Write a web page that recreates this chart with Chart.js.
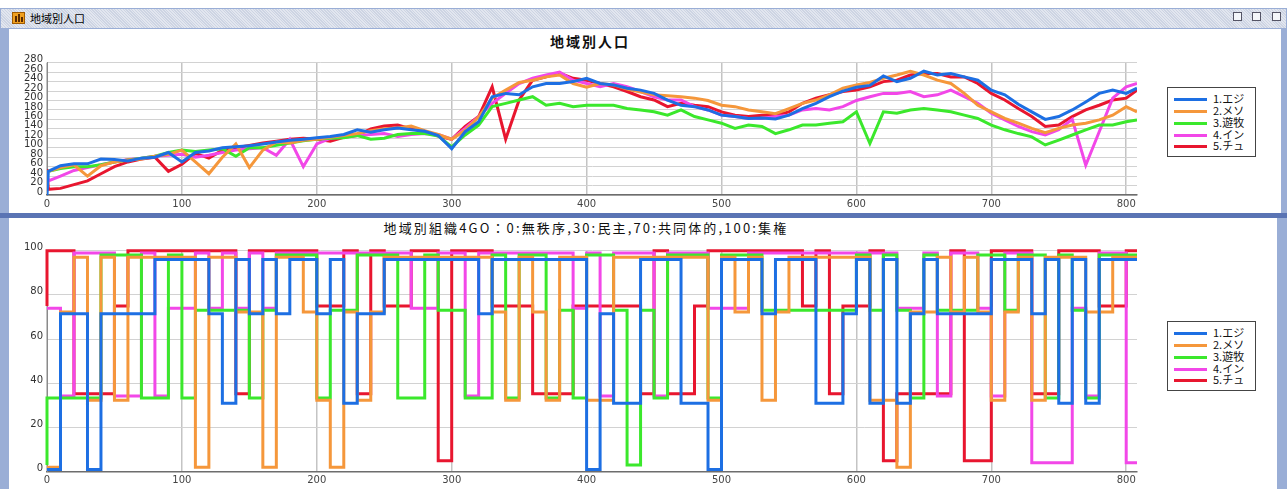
<!DOCTYPE html>
<html><head><meta charset="utf-8">
<script src="https://cdn.jsdelivr.net/npm/chart.js@4.4.0/dist/chart.umd.min.js"></script>
<style>
html,body{margin:0;padding:0;width:1287px;height:489px;overflow:hidden;background:#ffffff;}
body{position:relative;font-family:"Noto Sans CJK JP","DejaVu Sans",sans-serif;}
#frame{position:absolute;left:0;top:8px;width:1287px;height:481px;background:#9aaed6;}
#sep{position:absolute;left:0;top:213px;width:1287px;height:5px;background:#5a74b4;}
#tbar{position:absolute;left:1px;top:9px;width:1285px;height:19px;background:repeating-linear-gradient(45deg,#e2e6ef 0px,#e2e6ef 1px,#cdd4e3 1px,#cdd4e3 2px);}
#ticon{position:absolute;left:12px;top:12px;width:13px;height:12px;background:#f0a020;border:1px solid #a05a00;box-sizing:border-box;}
#ticon i{position:absolute;bottom:1px;width:2px;background:#5a2a00;}
#ttext{position:absolute;left:30px;top:10px;font-size:11px;line-height:17px;color:#000;}
.wbtn{position:absolute;top:12px;width:9px;height:9px;border:1px solid #556;background:#f4f6fa;box-sizing:border-box;}
.panel{position:absolute;background:#fff;}
#p1{left:9px;top:29px;width:1272px;height:184px;}
#p2{left:9px;top:218px;width:1268px;height:271px;}
canvas{position:absolute;left:0;}
#c1{top:29px;}
#c2{top:218px;}
.title{position:absolute;white-space:nowrap;color:#111;}
#t1{top:32px;font-size:14px;font-weight:bold;line-height:18px;}
#t2{top:219px;font-size:13px;line-height:18px;}
.legend{position:absolute;left:1167px;width:89px;height:70px;border:1px solid #444;background:#fff;box-sizing:border-box;}
.legend div{position:absolute;left:0;height:12px;width:88px;}
.legend span.l{position:absolute;left:6px;top:5px;width:33px;height:3px;}
.legend span.t{position:absolute;left:45px;top:-3px;font-size:11px;line-height:16px;color:#111;}
</style></head>
<body>
<div id="frame"></div>
<div id="sep"></div>
<div id="tbar"></div>
<div id="ticon"><i style="left:2px;height:6px"></i><i style="left:5px;height:8px"></i><i style="left:8px;height:5px"></i></div>
<div id="ttext">地域別人口</div>
<div class="wbtn" style="left:1233px"></div>
<div class="wbtn" style="left:1252px"></div>
<div class="wbtn" style="left:1272px"></div>
<div class="panel" id="p1"></div>
<div class="panel" id="p2"></div>
<div class="title" id="t1">地域別人口</div>
<div class="title" id="t2">地域別組織4GO：0:無秩序,30:民主,70:共同体的,100:集権</div>
<canvas id="c1" width="1160" height="185"></canvas>
<canvas id="c2" width="1160" height="271"></canvas>
<div class="legend" id="lg1" style="top:87px"></div>
<div class="legend" id="lg2" style="top:321px"></div>
<script>
// ---------- data ----------
const seriesNames = ["1.エジ", "2.メソ", "3.遊牧", "4.イン", "5.チュ"];
const seriesColors = ["#1d6fe3", "#f5973b", "#3be82c", "#f247e8", "#e8162f"];

// population chart (time steps)
const xPop = [0,1,10,20,30,40,50,60,70,80,90,100,110,120,130,140,150,160,170,180,190,200,210,220,230,240,250,260,270,280,290,300,310,320,330,340,350,360,370,380,390,400,410,420,430,440,450,460,470,480,490,500,510,520,530,540,550,560,570,580,590,600,610,620,630,640,650,660,670,680,690,700,710,720,730,740,750,760,770,780,790,800,808];
const popEji = [0,50,62,66,66,76,75,72,78,80,90,70,90,93,100,102,104,108,112,116,118,121,124,128,138,133,138,142,138,135,126,98,134,155,208,215,212,229,236,236,240,247,236,233,226,222,215,201,190,187,180,169,166,162,163,161,169,183,194,208,220,228,232,252,240,247,262,254,257,250,243,222,212,192,176,160,166,180,197,215,222,215,226];
const popMeso = [48,50,58,64,40,62,70,74,76,82,86,95,70,45,80,108,58,95,112,110,116,118,122,126,130,136,140,142,146,136,128,118,137,165,205,222,238,243,250,254,236,228,236,233,224,218,212,210,208,205,200,190,187,180,176,172,183,194,201,212,226,233,238,247,254,262,254,243,236,215,190,176,162,152,141,132,141,148,152,159,169,187,176];
const popYuboku = [48,50,56,60,60,64,70,74,78,82,90,95,92,95,98,82,100,100,105,110,115,118,120,121,126,118,120,128,130,130,125,102,127,148,187,194,201,208,190,194,187,190,190,190,183,180,176,169,180,166,159,152,141,148,145,130,138,148,148,152,155,176,109,176,173,180,183,180,176,169,162,148,138,130,123,106,116,127,138,148,148,155,159];
const popIn = [45,30,40,52,58,64,70,75,78,82,84,86,80,84,90,95,98,100,84,118,60,108,120,124,126,128,130,124,128,130,128,118,141,166,194,215,236,247,254,260,243,236,229,236,229,219,208,201,201,187,180,169,166,162,162,166,169,180,183,180,187,200,208,215,215,219,208,212,222,208,194,173,159,145,134,127,138,160,63,134,205,229,236];
const popChu = [55,12,14,22,30,45,60,70,76,80,50,65,88,78,95,100,105,110,114,118,120,118,114,122,126,140,146,148,140,135,125,118,145,166,229,118,201,243,250,258,247,243,236,229,219,208,201,187,194,190,187,176,169,166,169,169,176,194,205,212,219,222,229,240,243,254,257,257,250,250,236,215,201,183,166,145,148,166,180,190,201,205,222];
const popTicksY = [0,20,40,60,80,100,120,140,160,180,200,220,240,260,280];

// organisation chart (step changes every 10 steps)
const xOrg = [0,10,20,30,40,50,60,70,80,90,100,110,120,130,140,150,160,170,180,190,200,210,220,230,240,250,260,270,280,290,300,310,320,330,340,350,360,370,380,390,400,410,420,430,440,450,460,470,480,490,500,510,520,530,540,550,560,570,580,590,600,610,620,630,640,650,660,670,680,690,700,710,720,730,740,750,760,770,780,790,800];
const xOrgEnd = 808;
const orgStart = [1, 2, 3, 74, 75];
const orgEji = [1,71.5,71.5,1,71.5,71.5,71.5,71.5,96,96,96,96,71.5,31,96,71.5,96,71.5,96,96,71.5,96,31,71.5,71.5,96,96,96,96,96,96,96,71.5,96,96,96,96,96,96,96,1,71.5,31,31,96,96,96,31,31,1,96,96,96,71.5,96,96,96,31,31,71.5,96,31,96,31,71.5,96,71.5,71.5,71.5,71.5,96,96,96,71.5,96,31,96,31,96,96,96];
const orgMeso = [2,72.3,97,32.3,97,32.3,97,97,97,97,97,2,97,97,72.3,72.3,2,97,97,72.3,32.3,2,72.3,32.3,72.3,97,97,97,97,97,97,97,97,72.3,32.3,97,72.3,32.3,97,97,32.3,32.3,97,97,97,97,97,97,97,32.3,97,72.3,97,32.3,72.3,97,97,97,97,97,97,32.3,32.3,2,72.3,72.3,97,72.3,97,72.3,32.3,72.3,97,32.3,97,97,97,72.3,72.3,97,97];
const orgYuboku = [33.4,33.4,33.4,33.4,98,98,98,33.4,33.4,98,33.4,73.1,73.1,73.1,73.1,33.4,73.1,98,98,98,33.4,73.1,73.1,98,98,98,33.4,33.4,98,73.1,73.1,33.4,33.4,98,33.4,98,98,33.4,73.1,33.4,98,98,73.1,3,73.1,33.4,98,98,98,33.4,98,98,98,73.1,73.1,73.1,73.1,73.1,73.1,73.1,98,73.1,98,73.1,33.4,98,73.1,73.1,73.1,98,98,73.1,98,98,33.4,98,73.1,33.4,98,98,98];
const orgIn = [74,34.3,99,99,99,34.3,34.3,99,34.3,74,74,99,74,99,74,99,74,99,99,99,99,99,99,99,99,99,99,74,74,99,99,34.3,99,99,99,99,99,99,99,74,99,34.3,99,99,99,34.3,99,99,99,74,74,74,99,99,99,99,99,99,99,99,99,99,99,74,74,99,34.3,99,99,74,34.3,99,99,4,4,4,74,34.3,99,99,4];
const orgChu = [100,100,35.3,35.3,35.3,75,100,100,100,100,100,100,100,100,35.3,100,100,100,100,100,75,75,100,35.3,100,75,75,100,100,5,100,100,100,75,75,75,35.3,35.3,35.3,75,75,75,75,75,35.3,100,35.3,35.3,75,100,100,100,100,100,100,100,75,100,35.3,75,75,100,5,35.3,35.3,35.3,35.3,100,5,5,100,100,100,35.3,35.3,100,100,100,75,75,100];
const orgTicksY = [0,20,40,60,80,100];
const xTicks = [0,100,200,300,400,500,600,700,800];

// ---------- helpers ----------
const popSeries = [popEji, popMeso, popYuboku, popIn, popChu];
const orgSeries = [orgEji, orgMeso, orgYuboku, orgIn, orgChu];

function popPoints(vals){ return vals.map((v,i)=>({x:xPop[i], y:v})); }
function orgPoints(vals, start){
  const pts = [{x:0, y:start}];
  vals.forEach((v,i)=>pts.push({x:xOrg[i], y:v}));
  pts.push({x:xOrgEnd, y:vals[vals.length-1]});
  return pts;
}
const tickFont = {family:"'DejaVu Sans', sans-serif", size:10};

function makeOptions(yMax, yTicks, yWidth, xHeight, pad){
  return {
    responsive:false, animation:false, devicePixelRatio:1,
    layout:{padding:pad},
    plugins:{legend:{display:false}, title:{display:false}, tooltip:{enabled:false}},
    elements:{point:{radius:0}, line:{tension:0, borderWidth:3, borderJoinStyle:'miter'}},
    scales:{
      x:{type:'linear', min:0, max:xOrgEnd,
         afterBuildTicks:(s)=>{s.ticks = xTicks.map(v=>({value:v}));},
         afterFit:(s)=>{s.height = xHeight;},
         ticks:{font:tickFont, color:'#444', padding:3, maxRotation:0, autoSkip:false},
         grid:{color:'#c4c4c4', lineWidth:1.5, drawTicks:false},
         border:{color:'#6d6d6d', width:1.5}},
      y:{type:'linear', min:0, max:yMax,
         afterBuildTicks:(s)=>{s.ticks = yTicks.map(v=>({value:v}));},
         afterFit:(s)=>{s.width = yWidth;},
         ticks:{font:tickFont, color:'#333', padding:4, labelOffset:-3, autoSkip:false},
         grid:{color:'#d2d2d2', lineWidth:1, drawTicks:false},
         border:{color:'#8a8a8a', width:1}}
    }
  };
}

new Chart(document.getElementById('c1'), {
  type:'line',
  data:{datasets: popSeries.map((s,i)=>({label:seriesNames[i], data:popPoints(s), borderColor:seriesColors[i], backgroundColor:seriesColors[i], fill:false}))},
  options: makeOptions(280, popTicksY, 47, 19, {left:0, top:33.7, right:23, bottom:0})
});

new Chart(document.getElementById('c2'), {
  type:'line',
  data:{datasets: orgSeries.map((s,i)=>({label:seriesNames[i], data:orgPoints(s, orgStart[i]), borderColor:seriesColors[i], backgroundColor:seriesColors[i], fill:false, stepped:true, clip:4}))},
  options: makeOptions(100, orgTicksY, 47, 17.3, {left:0, top:32.7, right:23, bottom:0})
});

// legends
function buildLegend(id){
  const box = document.getElementById(id);
  seriesNames.forEach((n,i)=>{
    const row = document.createElement('div');
    row.style.top = (5 + i*11.85) + 'px';
    row.innerHTML = '<span class="l" style="background:'+seriesColors[i]+'"></span><span class="t">'+n+'</span>';
    box.appendChild(row);
  });
}
buildLegend('lg1'); buildLegend('lg2');

// titles: spread to the measured width and centre over the plot
function placeTitle(id, cx, targetW){
  const el=document.getElementById(id);
  const w = el.offsetWidth, n = el.textContent.length;
  el.style.letterSpacing = ((targetW - w)/n) + 'px';
  el.style.left = (cx - el.offsetWidth/2) + 'px';
}
placeTitle('t1', 590, 80); placeTitle('t2', 586, 405);
</script>
</body></html>
